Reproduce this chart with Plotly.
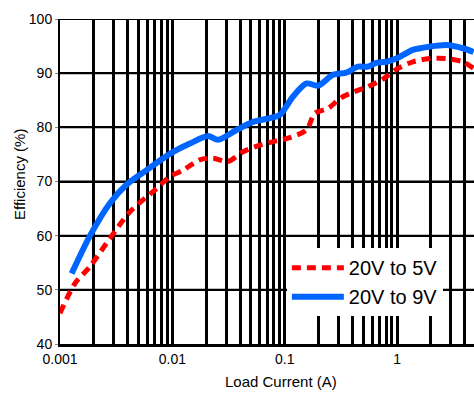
import plotly.graph_objects as go

# Data
i_5v = [0.001, 0.00136, 0.00185, 0.00278, 0.00419, 0.00723, 0.0095, 0.0125, 0.0175, 0.023,
        0.0313, 0.0426, 0.06, 0.0843, 0.107, 0.156, 0.185, 0.243, 0.319, 0.419,
        0.55, 0.748, 1.0, 1.38, 1.945, 2.74, 3.85, 4.79]
eff_5v = [45.7, 51.2, 54.3, 59.5, 64.4, 68.7, 70.9, 72.1, 74.0, 74.3,
          73.7, 75.5, 76.7, 77.5, 78.0, 79.5, 82.6, 83.5, 85.5, 86.6,
          87.5, 88.9, 90.8, 92.1, 92.7, 92.7, 92.1, 90.9]

i_9v = [0.00127, 0.00185, 0.00278, 0.0039, 0.00589, 0.0095, 0.0143, 0.0208, 0.0255, 0.0372,
        0.0522, 0.0736, 0.0903, 0.1186, 0.156, 0.198, 0.269, 0.353, 0.449, 0.55,
        0.653, 0.80, 1.05, 1.38, 1.945, 2.74, 3.85, 4.79]
eff_9v = [53.0, 60.0, 66.0, 69.4, 72.1, 75.1, 77.0, 78.4, 77.7, 79.5,
          81.0, 81.7, 82.3, 85.7, 88.1, 87.7, 89.7, 90.1, 91.2, 91.2,
          91.9, 92.1, 93.0, 94.3, 94.9, 95.2, 94.6, 93.9]

x_decades = [0.001, 0.01, 0.1, 1]
x_decade_labels = ["0.001", "0.01", "0.1", "1"]
x_grid = [m * d for d in x_decades for m in range(1, 10)]
x_grid_text = [x_decade_labels[k] if m == 1 else "" for k in range(len(x_decades)) for m in range(1, 10)]
y_ticks = [40, 50, 60, 70, 80, 90, 100]

font = "Liberation Sans, Arial, sans-serif"

fig = go.Figure()
fig.add_trace(go.Scatter(x=i_5v, y=eff_5v, mode="lines", name="20V to 5V",
                         line=dict(color="#FF0000", width=5, dash="9px,6px", shape="spline", smoothing=0.8)))
fig.add_trace(go.Scatter(x=i_9v, y=eff_9v, mode="lines", name="20V to 9V",
                         line=dict(color="#0066FF", width=6, shape="spline", smoothing=0.8)))

# horizontal grid lines at the y tick values (placed through the y scale)
for v in y_ticks[1:]:
    fig.add_hline(y=v, line=dict(color="black", width=2), layer="below")

fig.update_layout(
    width=474, height=393, autosize=False,
    margin=dict(l=60, r=0, t=19, b=49),
    paper_bgcolor="white", plot_bgcolor="white",
    font=dict(family=font, color="black", size=14),
    showlegend=True,
    legend=dict(x=0.548, y=0.295, xanchor="left", yanchor="top",
                bgcolor="white", borderwidth=0,
                font=dict(size=20, family=font, color="black"),
                itemwidth=52, tracegroupgap=0),
    xaxis=dict(type="log", range=[-3, 0.684],
               tickmode="array", tickvals=x_grid, ticktext=x_grid_text,
               showgrid=True, gridcolor="black", gridwidth=2.5, ticks="",
               showline=True, linecolor="black", linewidth=3,
               zeroline=False, tickfont=dict(size=14)),
    yaxis=dict(range=[40, 100], tickmode="array", tickvals=y_ticks,
               showgrid=True, gridcolor="black", gridwidth=2,
               ticks="outside", ticklen=3, tickcolor="#888888",
               showline=True, linecolor="black", linewidth=2,
               zeroline=False, tickfont=dict(size=14)),
    annotations=[
        dict(text="Load Current (A)", xref="paper", yref="paper", x=0.534, y=-0.114,
             xanchor="center", yanchor="middle", showarrow=False, font=dict(size=15)),
        dict(text="Efficiency (%)", xref="paper", yref="paper", x=-0.099, y=0.52,
             xanchor="center", yanchor="middle", showarrow=False, textangle=-90, font=dict(size=15)),
    ],
)

fig.write_html("out.html")
